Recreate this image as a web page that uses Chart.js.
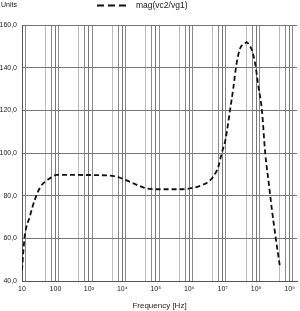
<!DOCTYPE html>
<html lang="en">
<head>
  <meta charset="UTF-8" />
  <title>mag(vc2/vg1)</title>
  <script src="https://cdn.jsdelivr.net/npm/chart.js"></script>
  <style>
    html, body { margin: 0; padding: 0; background: #fff; }
    #wrap { width: 300px; height: 311px; }
  </style>
</head>
<body>
  <div id="wrap"><canvas id="chart" width="300" height="311"></canvas></div>

  <script>
    // frequency response
    const freqHz = [10, 11, 12, 17, 24, 34, 48, 68, 107, 430, 3400, 8500,
      1.66e4, 3.3e4, 5.2e4, 1.3e5, 5.2e5, 1.05e6, 2e6, 3.7e6, 5.2e6, 7.4e6,
      9.3e6, 1.2e7, 1.66e7, 2.1e7, 2.6e7, 3.3e7, 4.7e7, 5.2e7, 5.9e7, 7.4e7,
      9.3e7, 1.17e8, 1.48e8, 1.86e8, 2.35e8, 2.95e8, 3.7e8, 5.2e8];
    const magValues = [45, 54, 60.8, 70.1, 78, 83.6, 86.5, 88.1, 89.7, 89.7, 89.5, 88.4,
      86.5, 84.5, 83.4, 83, 83, 83.4, 84.5, 86.5, 88.9, 93.6,
      99.8, 106, 120.2, 131.1, 142, 149, 151.4, 152, 151.1, 148.3,
      142, 131, 120.2, 100, 86.5, 73.5, 62, 46];

    const seriesName = 'mag(vc2/vg1)';
    const decadeTicks = [1e1, 1e2, 1e3, 1e4, 1e5, 1e6, 1e7, 1e8, 1e9];
    const decadeLabels = ['10', '100', '10³', '10⁴', '10⁵', '10⁶', '10⁷', '10⁸', '10⁹'];
    const minorFactors = [0.5, 0.75, 1.25];
    const yTicks = [40, 60, 80, 100, 120, 140, 160];

    const X_MIN = 10, X_MAX = 1.66e9;

    const font = 'Liberation Sans, Arial, sans-serif';

    // "Units" and the legend sit on the same line above the plot
    const headerPlugin = {
      id: 'header',
      afterDraw(chart) {
        const ctx = chart.ctx;
        ctx.save();
        ctx.fillStyle = '#222';
        ctx.textBaseline = 'middle';
        ctx.font = '7px ' + font;
        ctx.fillText('Units', 1, 5);

        ctx.strokeStyle = '#111';
        ctx.lineWidth = 1.8;
        ctx.setLineDash([7, 4]);
        ctx.beginPath();
        ctx.moveTo(97, 5.5);
        ctx.lineTo(130, 5.5);
        ctx.stroke();
        ctx.setLineDash([]);

        ctx.font = '8.5px ' + font;
        ctx.fillText(seriesName, 136, 5.5);
        ctx.restore();
      }
    };

    function isDecade(v) {
      return decadeTicks.some(d => Math.abs(v / d - 1) < 1e-6);
    }

    const points = freqHz.map((f, i) => ({ x: f, y: magValues[i] }));

    new Chart(document.getElementById('chart'), {
      type: 'line',
      data: {
        datasets: [{
          label: seriesName,
          data: points,
          borderColor: '#111',
          borderWidth: 1.8,
          borderDash: [5, 3],
          pointRadius: 0,
          cubicInterpolationMode: 'monotone',
          fill: false
        }]
      },
      options: {
        responsive: false,
        animation: false,
        layout: { padding: { top: 25, right: 3, left: 0, bottom: 0 } },
        plugins: {
          legend: { display: false },
          tooltip: { enabled: false }
        },
        scales: {
          x: {
            type: 'logarithmic',
            min: X_MIN,
            max: X_MAX,
            afterBuildTicks: (scale) => {
              const vals = [];
              decadeTicks.forEach(d => {
                minorFactors.forEach(m => {
                  const v = d * m;
                  if (v > X_MIN && v < X_MAX) vals.push(v);
                });
                vals.push(d);
              });
              vals.sort((a, b) => a - b);
              scale.ticks = vals.map(v => ({ value: v }));
            },
            afterFit: (scale) => { scale.height = 30; },
            ticks: {
              autoSkip: false,
              maxRotation: 0,
              padding: 4,
              color: '#222',
              font: { family: font, size: 7 },
              callback: (v) => {
                const i = decadeTicks.findIndex(d => Math.abs(v / d - 1) < 1e-6);
                return i >= 0 ? decadeLabels[i] : '';
              }
            },
            grid: {
              drawTicks: false,
              lineWidth: 1,
              color: (c) => {
                if (!c.tick) return '#888';
                const v = c.tick.value;
                if (isDecade(v)) return '#777';
                if (decadeTicks.some(d => Math.abs(v / (d * 0.5) - 1) < 1e-6)) return '#bbb';
                return '#8a8a8a';
              }
            },
            border: { display: true, color: '#555', width: 1 },
            title: {
              display: true,
              text: 'Frequency [Hz]',
              color: '#222',
              font: { family: font, size: 8 },
              padding: { top: 0, bottom: 0 }
            }
          },
          y: {
            min: 40,
            max: 160,
            afterBuildTicks: (scale) => {
              scale.ticks = yTicks.map(v => ({ value: v }));
            },
            afterFit: (scale) => { scale.width = 22; },
            ticks: {
              padding: 5,
              color: '#222',
              font: { family: font, size: 7 },
              callback: (v) => v.toFixed(1).replace('.', ',')
            },
            grid: {
              drawTicks: false,
              color: '#777',
              lineWidth: 1
            },
            border: { display: true, color: '#555', width: 1 }
          }
        }
      },
      plugins: [headerPlugin]
    });
  </script>
</body>
</html>
